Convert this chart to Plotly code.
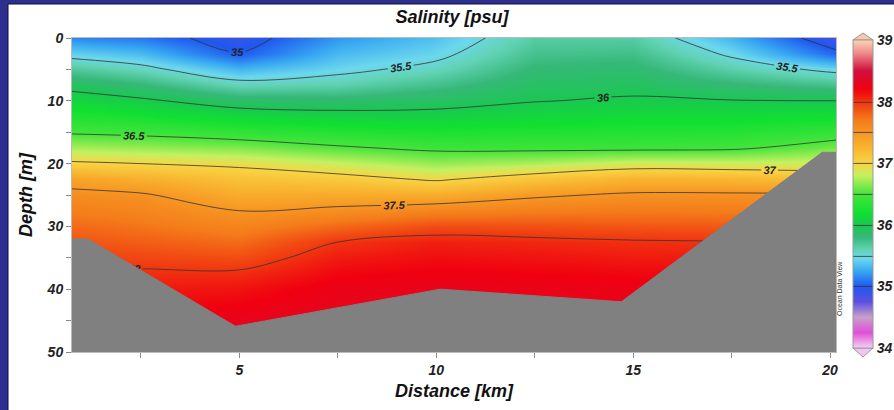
import plotly.graph_objects as go

# ---------------- data ----------------
distance_km = [0.75, 2.5, 5, 7.5, 10, 12.5, 15, 17.5, 20.15]
depth_m = [0, 2.5, 5, 7.5, 10, 12.5, 15, 17.5, 20, 22.5, 25, 27.5, 30, 32.5, 35, 37.5, 40, 45, 50]

# salinity rows (one per depth), columns follow distance_km
sal_0    = [35.15, 35.10, 34.90, 35.20, 35.35, 35.65, 35.65, 35.30, 34.85]
sal_2_5  = [35.42, 35.33, 35.01, 35.32, 35.44, 35.73, 35.75, 35.46, 35.05]
sal_5    = [35.68, 35.57, 35.30, 35.44, 35.57, 35.82, 35.84, 35.63, 35.44]
sal_7_5  = [35.92, 35.81, 35.59, 35.62, 35.74, 35.90, 35.93, 35.82, 35.73]
sal_10   = [36.12, 36.04, 35.88, 35.86, 35.91, 35.99, 36.03, 36.01, 36.00]
sal_12_5 = [36.30, 36.24, 36.14, 36.09, 36.08, 36.13, 36.16, 36.16, 36.20]
sal_15   = [36.47, 36.44, 36.37, 36.31, 36.26, 36.29, 36.30, 36.31, 36.39]
sal_17_5 = [36.74, 36.70, 36.64, 36.53, 36.45, 36.44, 36.44, 36.46, 36.61]
sal_20   = [37.04, 37.00, 36.95, 36.83, 36.70, 36.76, 36.87, 36.85, 36.85]
sal_22_5 = [37.39, 37.29, 37.15, 37.09, 36.97, 37.13, 37.26, 37.24, 37.17]
sal_25   = [37.57, 37.53, 37.32, 37.33, 37.32, 37.46, 37.54, 37.54, 37.53]
sal_27_5 = [37.68, 37.63, 37.50, 37.56, 37.64, 37.68, 37.70, 37.69, 37.70]
sal_30   = [37.78, 37.73, 37.63, 37.78, 37.90, 37.88, 37.86, 37.85, 37.85]
sal_32_5 = [37.87, 37.83, 37.77, 38.00, 38.08, 38.05, 38.02, 38.01, 38.00]
sal_35   = [37.95, 37.93, 37.90, 38.10, 38.15, 38.13, 38.10, 38.10, 38.10]
sal_37_5 = [38.02, 38.03, 38.03, 38.18, 38.22, 38.20, 38.18, 38.17, 38.17]
sal_40   = [38.08, 38.10, 38.13, 38.25, 38.27, 38.25, 38.23, 38.22, 38.20]
sal_45   = [38.15, 38.20, 38.28, 38.30, 38.30, 38.28, 38.27, 38.25, 38.25]
sal_50   = [38.20, 38.25, 38.32, 38.32, 38.30, 38.30, 38.28, 38.27, 38.27]

salinity = [sal_0, sal_2_5, sal_5, sal_7_5, sal_10, sal_12_5, sal_15, sal_17_5,
            sal_20, sal_22_5, sal_25, sal_27_5, sal_30, sal_32_5, sal_35,
            sal_37_5, sal_40, sal_45, sal_50]

# bottom topography (gray)
bathy_dist = [0.75, 1.15, 4.9, 10.1, 14.7, 19.8, 20.15, 20.15, 0.75]
bathy_depth = [32.0, 32.0, 45.9, 40.0, 42.0, 18.2, 18.2, 50.0, 50.0]

x_tickvals = [2.5, 5, 7.5, 10, 12.5, 15, 17.5, 20]
x_ticktext = ["", "5", "", "10", "", "15", "", "20"]
y_tickvals = [0, 5, 10, 15, 20, 25, 30, 35, 40, 45, 50]
y_ticktext = ["0", "", "10", "", "20", "", "30", "", "40", "", "50"]
cbar_ticks = [34, 35, 36, 37, 38, 39]

# ---------------- styling ----------------
odv_scale = [
    [0.00, "#f6d0f4"], [0.05, "#e050d8"], [0.10, "#c8a0c8"], [0.15, "#5a50e0"],
    [0.20, "#1e58f0"], [0.25, "#38a8f2"], [0.29, "#6cd8ec"], [0.32, "#62d2b4"],
    [0.36, "#36b878"], [0.40, "#1ac850"], [0.44, "#10e030"], [0.50, "#48e43c"],
    [0.56, "#c4f060"], [0.60, "#f8d444"], [0.66, "#f8ae2c"], [0.74, "#f47c1a"],
    [0.80, "#f03410"], [0.84, "#f00010"], [0.90, "#d0103c"], [0.96, "#f09090"],
    [1.00, "#fad4b4"],
]

W, H = 894, 410
L, R, T, B = 72, 58, 38, 58
pw, ph = W - L - R, H - T - B


def px(x):
    return (x - L) / pw


def py(y):
    return (H - B - y) / ph


bold_it = dict(family="Arial, Liberation Sans, sans-serif", weight="bold", style="italic")

fig = go.Figure()

fig.add_trace(go.Contour(
    x=distance_km, y=depth_m, z=salinity,
    colorscale=odv_scale, zmin=34, zmax=39,
    contours=dict(coloring="heatmap", start=35, end=38, size=0.5,
                  showlabels=True,
                  labelfont=dict(size=11, color="#222", **bold_it)),
    line=dict(color="#333333", width=0.8),
    colorbar=dict(
        x=px(853), xanchor="left", xpad=0,
        y=py(194), yanchor="middle", ypad=0,
        len=308, lenmode="pixels",
        thickness=20, thicknessmode="pixels",
        outlinewidth=1, outlinecolor="#999999",
        tickvals=cbar_ticks, ticks="",
        tickfont=dict(size=14, color="#222", **bold_it),
    ),
    hoverinfo="skip",
))

fig.add_trace(go.Scatter(
    x=bathy_dist, y=bathy_depth, mode="lines", fill="toself",
    fillcolor="#808080", line=dict(color="#808080", width=1),
    hoverinfo="skip", showlegend=False,
))

axis_common = dict(ticks="outside", ticklen=5, tickcolor="#888888",
                   showgrid=False, zeroline=False,
                   showline=True, linecolor="#bbbbbb", linewidth=1, mirror=True,
                   tickfont=dict(size=14, color="#222", **bold_it))

fig.update_xaxes(range=[0.75, 20.15], tickvals=x_tickvals, ticktext=x_ticktext,
                 title=dict(text="Distance [km]", font=dict(size=18, color="#111", **bold_it),
                            standoff=7),
                 **axis_common)
fig.update_yaxes(range=[50, 0], tickvals=y_tickvals, ticktext=y_ticktext,
                 title=dict(text="Depth [m]", font=dict(size=18, color="#111", **bold_it),
                            standoff=9),
                 **axis_common)

shapes = [
    # white inner panel on navy frame
    dict(type="rect", xref="paper", yref="paper", layer="below",
         x0=px(8), x1=px(900), y0=py(416), y1=py(4),
         fillcolor="white", line=dict(color="#111133", width=1)),
    # colorbar pointed ends
    dict(type="path", xref="paper", yref="paper",
         path=f"M {px(853)},{py(40)} L {px(863)},{py(33)} L {px(873)},{py(40)} Z",
         fillcolor="#f8c8a8", line=dict(color="#999999", width=1)),
    dict(type="path", xref="paper", yref="paper",
         path=f"M {px(853)},{py(348)} L {px(863)},{py(357)} L {px(873)},{py(348)} Z",
         fillcolor="#f2c4f0", line=dict(color="#999999", width=1)),
]

fig.update_layout(
    width=W, height=H,
    margin=dict(l=L, r=R, t=T, b=B, autoexpand=False),
    paper_bgcolor="#2d2f8e", plot_bgcolor="white",
    title=dict(text="Salinity [psu]", x=452 / W, xanchor="center", xref="container",
               y=1 - 17 / H, yref="container", yanchor="middle",
               font=dict(size=18, color="#111", **bold_it)),
    shapes=shapes,
    annotations=[dict(text="Ocean Data View", xref="paper", yref="paper",
                      x=px(845), y=py(318), textangle=-90, showarrow=False,
                      font=dict(size=7, color="#333",
                                family="Arial, Liberation Sans, sans-serif"))],
    showlegend=False,
)

fig.write_html("out.html", config={"displayModeBar": False},
               post_script="document.body.style.margin='0';document.body.style.padding='0';")
